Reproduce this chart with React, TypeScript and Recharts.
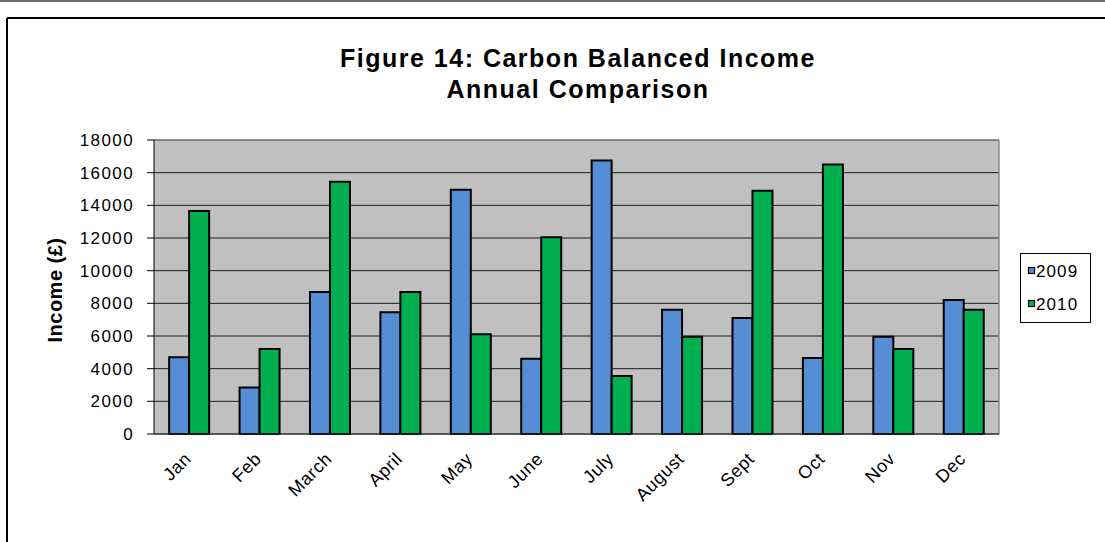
import React from 'react';
import { BarChart, Bar, XAxis, YAxis, CartesianGrid, ReferenceLine } from 'recharts';

const months = ['Jan', 'Feb', 'March', 'April', 'May', 'June', 'July', 'August', 'Sept', 'Oct', 'Nov', 'Dec'];
const income2009 = [4700, 2850, 8700, 7450, 14950, 4600, 16750, 7600, 7100, 4650, 5950, 8200];
const income2010 = [13650, 5200, 15450, 8700, 6100, 12050, 3550, 5950, 14900, 16500, 5200, 7600];
const yTicks = [0, 2000, 4000, 6000, 8000, 10000, 12000, 14000, 16000, 18000];
const seriesNames = ['2009', '2010'];
const seriesColors = ['#558ED5', '#00B050'];
const titleLines = ['Figure 14: Carbon Balanced Income', 'Annual Comparison'];
const yLabel = 'Income (£)';

const boundaryTicks = [...months.map((_, i) => i), months.length];
const data = months.map((m, i) => ({ month: m, idx: i, y2009: income2009[i], y2010: income2010[i] }));

const FONT = "Arial, 'Liberation Sans', sans-serif";

const MonthTick = (props: any) => {
  const { x, y, payload } = props;
  const tx = x + 3;
  const ty = y + 25;
  return (
    <text
      x={tx}
      y={ty}
      textAnchor="end"
      transform={`rotate(-45 ${tx} ${ty})`}
      fontFamily={FONT}
      fontSize={18}
      letterSpacing={0.6}
      fill="#000"
    >
      {payload.value}
    </text>
  );
};

export default function App() {
  return (
    <div style={{ position: 'absolute', left: 0, top: 0, width: 1105, height: 542, background: '#fff', overflow: 'hidden' }}>
      <svg width={1105} height={542} style={{ position: 'absolute', left: 0, top: 0 }}>
        <rect x={0} y={0} width={1105} height={2} fill="#6e6e6e" />
        <line x1={7} y1={18} x2={1105} y2={18} stroke="#000" strokeWidth={2} />
        <line x1={7} y1={18} x2={7} y2={542} stroke="#000" strokeWidth={2} />
        {titleLines.map((t, i) => (
          <text
            key={t}
            x={578}
            y={66.5 + i * 31.5}
            textAnchor="middle"
            fontFamily={FONT}
            fontWeight="bold"
            fontSize={25}
            letterSpacing={1.5}
            fill="#000"
          >
            {t}
          </text>
        ))}
        <text
          transform="translate(62 290) rotate(-90)"
          textAnchor="middle"
          fontFamily={FONT}
          fontWeight="bold"
          fontSize={20}
          letterSpacing={0.5}
          fill="#000"
        >
          {yLabel}
        </text>
        <rect x={1020.5} y={253.5} width={70} height={69} fill="#fff" stroke="#000" strokeWidth={1} />
        {seriesNames.map((s, i) => (
          <g key={s}>
            <rect x={1028.5} y={267.5 + i * 33} width={6} height={6} fill={seriesColors[i]} stroke="#000" strokeWidth={1.2} />
            <text x={1036} y={276.5 + i * 33} fontFamily={FONT} fontSize={17} letterSpacing={1.1} fill="#000">
              {s}
            </text>
          </g>
        ))}
      </svg>
      <div style={{ position: 'absolute', left: 0, top: 0 }}>
        <BarChart
          width={1105}
          height={542}
          data={data}
          margin={{ top: 140, right: 106, left: 0, bottom: 48 }}
          barCategoryGap="21.5%"
          barGap={0}
        >
          <CartesianGrid xAxisId="a_grid" vertical={false} stroke="#1e1e1e" fill="#C0C0C0" />
          <XAxis
            xAxisId="a_grid"
            type="number"
            dataKey="idx"
            domain={[0, months.length]}
            ticks={boundaryTicks}
            allowDataOverflow
            interval={0}
            height={1}
            tick={false}
            tickSize={5}
            axisLine={{ stroke: '#333' }}
            tickLine={{ stroke: '#333' }}
          />
          <XAxis
            xAxisId="b_cat"
            dataKey="month"
            interval={0}
            height={59}
            axisLine={false}
            tickLine={false}
            tickSize={0}
            tickMargin={0}
            tick={<MonthTick />}
          />
          <YAxis
            width={154}
            domain={[0, 18000]}
            ticks={yTicks}
            interval={0}
            tickSize={7}
            tickMargin={13}
            axisLine={{ stroke: '#000' }}
            tickLine={{ stroke: '#000' }}
            tick={{ fontFamily: FONT, fontSize: 17, fill: '#000', letterSpacing: 1.4 } as any}
          />
          <ReferenceLine y={18000} xAxisId="a_grid" stroke="#8a8a8a" strokeWidth={1.5} />
          <ReferenceLine x={months.length} xAxisId="a_grid" stroke="#8a8a8a" strokeWidth={1.5} />
          <Bar xAxisId="b_cat" dataKey="y2009" name={seriesNames[0]} fill={seriesColors[0]} stroke="#000" strokeWidth={2} isAnimationActive={false} />
          <Bar xAxisId="b_cat" dataKey="y2010" name={seriesNames[1]} fill={seriesColors[1]} stroke="#000" strokeWidth={2} isAnimationActive={false} />
        </BarChart>
      </div>
    </div>
  );
}
